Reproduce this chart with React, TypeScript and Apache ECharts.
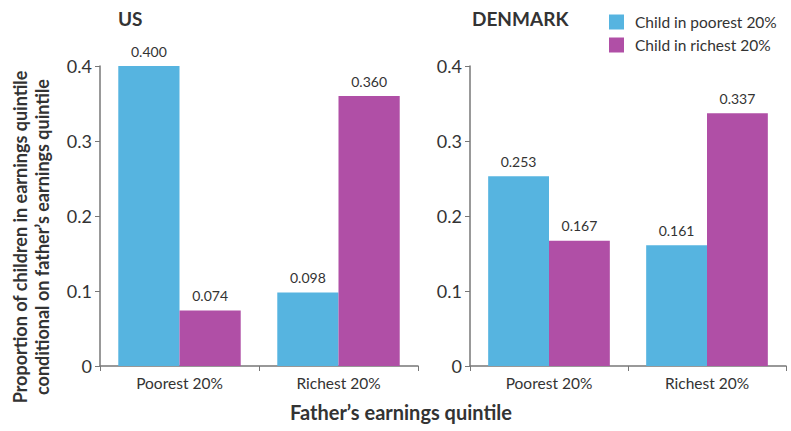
import React, { useEffect, useRef } from "react";
import * as echarts from "echarts";

const categories = ["Poorest 20%", "Richest 20%"];
const seriesNames = ["Child in poorest 20%", "Child in richest 20%"];
const usPoorest = [0.4, 0.098];
const usRichest = [0.074, 0.36];
const dkPoorest = [0.253, 0.161];
const dkRichest = [0.167, 0.337];
const yTicks = [0, 0.1, 0.2, 0.3, 0.4];
const panelTitles = ["US", "DENMARK"];

const BLUE = "#56b4e0";
const PURPLE = "#b04fa6";
const FONT = "Lato";
const TEXT = "#333333";
const AXIS = "#777777";

export default function App() {
  const ref = useRef<HTMLDivElement>(null);
  useEffect(() => {
    if (!ref.current) return;
    const chart = echarts.init(ref.current, null, { renderer: "svg" });
    const grids = [
      { left: 100, top: 66, width: 318, height: 300 },
      { left: 470, top: 66, width: 316, height: 300 },
    ];
    const xAxis = grids.map((_, i) => ({
      type: "category",
      gridIndex: i,
      data: categories,
      axisLine: { lineStyle: { color: AXIS, width: 1.5 } },
      axisTick: { show: true, length: 5, alignWithLabel: false, lineStyle: { color: AXIS } },
      axisLabel: { color: TEXT, fontSize: 15.5, fontFamily: FONT, margin: 9 },
    }));
    const yAxis = grids.map((_, i) => ({
      type: "value",
      gridIndex: i,
      min: yTicks[0],
      max: yTicks[yTicks.length - 1],
      interval: 0.1,
      splitLine: { show: false },
      axisLine: { show: true, lineStyle: { color: AXIS, width: 1.5 } },
      axisTick: { show: true, length: 5, lineStyle: { color: AXIS } },
      axisLabel: {
        color: TEXT,
        fontSize: 18,
        fontFamily: FONT,
        margin: 8,
        formatter: (v: number) => (v === 0 ? "0" : String(Math.round(v * 10) / 10)),
      },
    }));
    const label = {
      show: true,
      position: "top",
      distance: 8,
      color: TEXT,
      fontSize: 14,
      fontFamily: FONT,
      formatter: (p: any) => Number(p.value).toFixed(3),
    };
    const mk = (name: string, data: number[], color: string, idx: number) => ({
      type: "bar",
      name,
      xAxisIndex: idx,
      yAxisIndex: idx,
      data,
      barGap: "0%",
      barCategoryGap: "23%",
      itemStyle: { color },
      label,
    });
    chart.setOption({
      animation: false,
      backgroundColor: "#ffffff",
      grid: grids,
      xAxis,
      yAxis,
      legend: {
        show: true,
        orient: "vertical",
        left: 604,
        top: 9,
        itemWidth: 15,
        itemHeight: 15,
        itemGap: 7,
        icon: "rect",
        data: seriesNames,
        textStyle: { color: TEXT, fontSize: 15.5, fontFamily: FONT, padding: [0, 0, 0, 6] },
      },
      series: [
        mk(seriesNames[0], usPoorest, BLUE, 0),
        mk(seriesNames[1], usRichest, PURPLE, 0),
        mk(seriesNames[0], dkPoorest, BLUE, 1),
        mk(seriesNames[1], dkRichest, PURPLE, 1),
      ],
      graphic: [
        {
          type: "text",
          left: 118,
          top: 9,
          style: { text: panelTitles[0], font: `bold 19px ${FONT}`, fill: TEXT },
        },
        {
          type: "text",
          left: 472,
          top: 9,
          style: { text: panelTitles[1], font: `bold 19px ${FONT}`, fill: TEXT },
        },
        {
          type: "text",
          x: 31,
          y: 237,
          rotation: Math.PI / 2,
          style: {
            text: "Proportion of children in earnings quintile\nconditional on father\u2019s earnings quintile",
            font: `bold 18px ${FONT}`,
            fill: TEXT,
            align: "center",
            verticalAlign: "middle",
            lineHeight: 22,
          },
        },
        {
          type: "text",
          x: 401,
          y: 412,
          style: {
            text: "Father\u2019s earnings quintile",
            font: `bold 20px ${FONT}`,
            fill: TEXT,
            align: "center",
            verticalAlign: "middle",
          },
        },
      ],
    });
    return () => chart.dispose();
  }, []);
  return (
    <div
      ref={ref}
      style={{ position: "fixed", left: 0, top: 0, width: 791, height: 431 }}
    />
  );
}
